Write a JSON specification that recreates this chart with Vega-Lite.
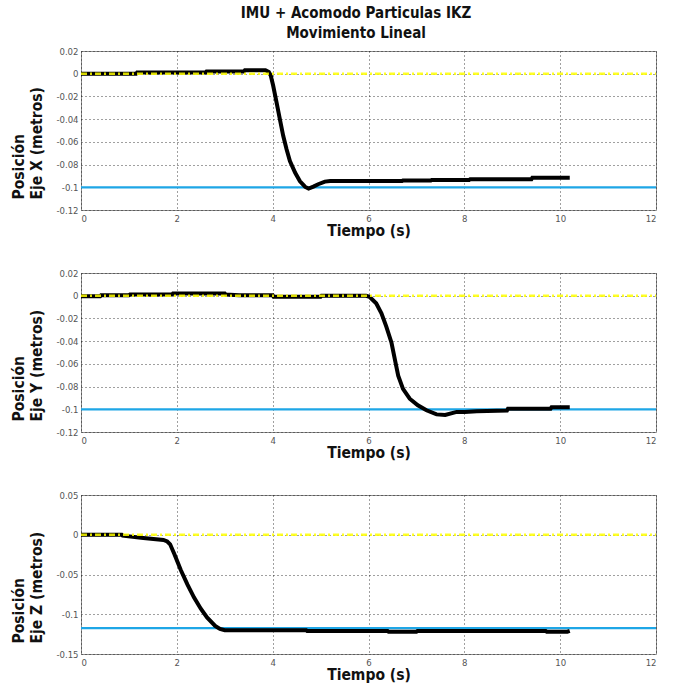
{
  "$schema": "https://vega.github.io/schema/vega-lite/v6.json",
  "background": "white",
  "padding": {"left": 10, "top": 5, "right": 10, "bottom": 0},
  "bounds": "flush",
  "spacing": 63,
  "title": {
    "text": ["IMU + Acomodo Particulas IKZ", "Movimiento Lineal"],
    "anchor": "middle",
    "font": "DejaVu Sans Condensed, sans-serif",
    "fontSize": 15,
    "fontWeight": "bold",
    "lineHeight": 20,
    "color": "#111",
    "offset": 5,
    "dx": 20
  },
  "config": {
    "view": {"stroke": "#8c8c8c", "strokeWidth": 1},
    "axis": {
      "grid": true,
      "gridColor": "#111",
      "gridDash": [1, 3],
      "gridOpacity": 0.8,
      "gridWidth": 1,
      "domain": false,
      "ticks": false,
      "labelFont": "DejaVu Sans Condensed, sans-serif",
      "labelFontSize": 9.5,
      "labelColor": "#555",
      "labelPadding": 3,
      "titleFont": "DejaVu Sans Condensed, sans-serif",
      "titleFontWeight": "bold",
      "titleFontSize": 15.5,
      "titleColor": "#111"
    }
  },
  "datasets": {
    "medida": [
      {"p": "X", "t": 0, "y": 0}, {"p": "X", "t": 1.15, "y": 0}, {"p": "X", "t": 1.17, "y": 0.001},
      {"p": "X", "t": 2.6, "y": 0.001}, {"p": "X", "t": 2.62, "y": 0.002}, {"p": "X", "t": 3.4, "y": 0.002},
      {"p": "X", "t": 3.42, "y": 0.003}, {"p": "X", "t": 3.85, "y": 0.003}, {"p": "X", "t": 3.92, "y": 0.0015},
      {"p": "X", "t": 3.96, "y": -0.0015}, {"p": "X", "t": 4.01, "y": -0.0104}, {"p": "X", "t": 4.08, "y": -0.025},
      {"p": "X", "t": 4.15, "y": -0.04}, {"p": "X", "t": 4.22, "y": -0.0547}, {"p": "X", "t": 4.29, "y": -0.0666},
      {"p": "X", "t": 4.36, "y": -0.077}, {"p": "X", "t": 4.47, "y": -0.0873}, {"p": "X", "t": 4.57, "y": -0.0947},
      {"p": "X", "t": 4.68, "y": -0.0997}, {"p": "X", "t": 4.75, "y": -0.1012}, {"p": "X", "t": 4.85, "y": -0.0994},
      {"p": "X", "t": 4.95, "y": -0.0973}, {"p": "X", "t": 5.09, "y": -0.095}, {"p": "X", "t": 5.2, "y": -0.0945},
      {"p": "X", "t": 6.7, "y": -0.0945}, {"p": "X", "t": 6.72, "y": -0.094}, {"p": "X", "t": 7.3, "y": -0.094},
      {"p": "X", "t": 7.32, "y": -0.0935}, {"p": "X", "t": 8.1, "y": -0.0935}, {"p": "X", "t": 8.12, "y": -0.093},
      {"p": "X", "t": 9.4, "y": -0.093}, {"p": "X", "t": 9.42, "y": -0.0915}, {"p": "X", "t": 10.2, "y": -0.0915},

      {"p": "Y", "t": 0, "y": -0.0005}, {"p": "Y", "t": 0.4, "y": -0.0005}, {"p": "Y", "t": 0.42, "y": 0.0005},
      {"p": "Y", "t": 1.0, "y": 0.0005}, {"p": "Y", "t": 1.02, "y": 0.001}, {"p": "Y", "t": 1.9, "y": 0.001},
      {"p": "Y", "t": 1.92, "y": 0.002}, {"p": "Y", "t": 3.0, "y": 0.002}, {"p": "Y", "t": 3.02, "y": 0.001},
      {"p": "Y", "t": 3.3, "y": 0.0005}, {"p": "Y", "t": 4.0, "y": 0.0005}, {"p": "Y", "t": 4.02, "y": -0.001},
      {"p": "Y", "t": 5.0, "y": -0.001}, {"p": "Y", "t": 5.02, "y": 0}, {"p": "Y", "t": 5.95, "y": 0},
      {"p": "Y", "t": 6.02, "y": -0.0009}, {"p": "Y", "t": 6.16, "y": -0.0067}, {"p": "Y", "t": 6.27, "y": -0.0154},
      {"p": "Y", "t": 6.37, "y": -0.027}, {"p": "Y", "t": 6.48, "y": -0.0414}, {"p": "Y", "t": 6.55, "y": -0.056},
      {"p": "Y", "t": 6.62, "y": -0.0704}, {"p": "Y", "t": 6.72, "y": -0.082}, {"p": "Y", "t": 6.86, "y": -0.0907},
      {"p": "Y", "t": 7.03, "y": -0.0965}, {"p": "Y", "t": 7.21, "y": -0.1009}, {"p": "Y", "t": 7.42, "y": -0.1045},
      {"p": "Y", "t": 7.6, "y": -0.105}, {"p": "Y", "t": 7.84, "y": -0.1023}, {"p": "Y", "t": 8.01, "y": -0.1023},
      {"p": "Y", "t": 8.26, "y": -0.1017}, {"p": "Y", "t": 8.89, "y": -0.101}, {"p": "Y", "t": 8.91, "y": -0.0995},
      {"p": "Y", "t": 9.8, "y": -0.0995}, {"p": "Y", "t": 9.82, "y": -0.0983}, {"p": "Y", "t": 10.2, "y": -0.0983},

      {"p": "Z", "t": 0, "y": 0}, {"p": "Z", "t": 0.85, "y": 0}, {"p": "Z", "t": 0.87, "y": -0.0012},
      {"p": "Z", "t": 1.3, "y": -0.004}, {"p": "Z", "t": 1.72, "y": -0.0065}, {"p": "Z", "t": 1.8, "y": -0.0085},
      {"p": "Z", "t": 1.86, "y": -0.012}, {"p": "Z", "t": 1.95, "y": -0.0245}, {"p": "Z", "t": 2.08, "y": -0.044},
      {"p": "Z", "t": 2.22, "y": -0.0625}, {"p": "Z", "t": 2.36, "y": -0.079}, {"p": "Z", "t": 2.5, "y": -0.093},
      {"p": "Z", "t": 2.63, "y": -0.104}, {"p": "Z", "t": 2.8, "y": -0.1146}, {"p": "Z", "t": 2.9, "y": -0.1185},
      {"p": "Z", "t": 3.0, "y": -0.12}, {"p": "Z", "t": 4.7, "y": -0.12}, {"p": "Z", "t": 4.72, "y": -0.121},
      {"p": "Z", "t": 6.4, "y": -0.121}, {"p": "Z", "t": 6.42, "y": -0.122}, {"p": "Z", "t": 7.0, "y": -0.122},
      {"p": "Z", "t": 7.02, "y": -0.1212}, {"p": "Z", "t": 9.7, "y": -0.1212}, {"p": "Z", "t": 9.72, "y": -0.122},
      {"p": "Z", "t": 10.15, "y": -0.122}, {"p": "Z", "t": 10.2, "y": -0.121}
    ],
    "cero": [
      {"p": "X", "t": 0, "y": 0}, {"p": "X", "t": 12, "y": 0},
      {"p": "Y", "t": 0, "y": 0}, {"p": "Y", "t": 12, "y": 0},
      {"p": "Z", "t": 0, "y": 0}, {"p": "Z", "t": 12, "y": 0}
    ],
    "objetivo": [
      {"p": "X", "t": 0, "y": -0.1}, {"p": "X", "t": 12, "y": -0.1},
      {"p": "Y", "t": 0, "y": -0.1}, {"p": "Y", "t": 12, "y": -0.1},
      {"p": "Z", "t": 0, "y": -0.1175}, {"p": "Z", "t": 12, "y": -0.1175}
    ]
  },
  "vconcat": [
    {
      "width": 575, "height": 159,
      "encoding": {
        "x": {"field": "t", "type": "quantitative", "scale": {"domain": [0, 12], "nice": false},
              "axis": {"values": [0, 2, 4, 6, 8, 10, 12], "title": "Tiempo (s)", "titlePadding": 1}},
        "y": {"field": "y", "type": "quantitative", "scale": {"domain": [-0.12, 0.02], "nice": false},
              "axis": {"values": [-0.12, -0.1, -0.08, -0.06, -0.04, -0.02, 0, 0.02], "labelExpr": "toString(datum.value)",
                       "title": ["Posición", "Eje X (metros)"], "titleAngle": -90, "titleAlign": "left", "titleBaseline": "top",
                       "titleX": -70, "titleY": 148, "titleLineHeight": 18}}
      },
      "layer": [
        {"data": {"name": "objetivo"}, "transform": [{"filter": "datum.p == 'X'"}], "mark": {"type": "line", "color": "#1ea6e6", "strokeWidth": 2.2}},
        {"data": {"name": "medida"}, "transform": [{"filter": "datum.p == 'X'"}], "mark": {"type": "line", "color": "#000000", "strokeWidth": 4}},
        {"data": {"name": "cero"}, "transform": [{"filter": "datum.p == 'X'"}], "mark": {"type": "line", "color": "#ffff00", "strokeWidth": 2.5, "opacity": 0.85, "strokeDash": [6, 3, 2, 3]}}
      ]
    },
    {
      "width": 575, "height": 159,
      "encoding": {
        "x": {"field": "t", "type": "quantitative", "scale": {"domain": [0, 12], "nice": false},
              "axis": {"values": [0, 2, 4, 6, 8, 10, 12], "title": "Tiempo (s)", "titlePadding": 1}},
        "y": {"field": "y", "type": "quantitative", "scale": {"domain": [-0.12, 0.02], "nice": false},
              "axis": {"values": [-0.12, -0.1, -0.08, -0.06, -0.04, -0.02, 0, 0.02], "labelExpr": "toString(datum.value)",
                       "title": ["Posición", "Eje Y (metros)"], "titleAngle": -90, "titleAlign": "left", "titleBaseline": "top",
                       "titleX": -70, "titleY": 148, "titleLineHeight": 18}}
      },
      "layer": [
        {"data": {"name": "objetivo"}, "transform": [{"filter": "datum.p == 'Y'"}], "mark": {"type": "line", "color": "#1ea6e6", "strokeWidth": 2.2}},
        {"data": {"name": "medida"}, "transform": [{"filter": "datum.p == 'Y'"}], "mark": {"type": "line", "color": "#000000", "strokeWidth": 4}},
        {"data": {"name": "cero"}, "transform": [{"filter": "datum.p == 'Y'"}], "mark": {"type": "line", "color": "#ffff00", "strokeWidth": 2.5, "opacity": 0.85, "strokeDash": [6, 3, 2, 3]}}
      ]
    },
    {
      "width": 575, "height": 159,
      "encoding": {
        "x": {"field": "t", "type": "quantitative", "scale": {"domain": [0, 12], "nice": false},
              "axis": {"values": [0, 2, 4, 6, 8, 10, 12], "title": "Tiempo (s)", "titlePadding": 1}},
        "y": {"field": "y", "type": "quantitative", "scale": {"domain": [-0.15, 0.05], "nice": false},
              "axis": {"values": [-0.15, -0.1, -0.05, 0, 0.05], "labelExpr": "toString(datum.value)",
                       "title": ["Posición", "Eje Z (metros)"], "titleAngle": -90, "titleAlign": "left", "titleBaseline": "top",
                       "titleX": -70, "titleY": 148, "titleLineHeight": 18}}
      },
      "layer": [
        {"data": {"name": "objetivo"}, "transform": [{"filter": "datum.p == 'Z'"}], "mark": {"type": "line", "color": "#1ea6e6", "strokeWidth": 2.2}},
        {"data": {"name": "medida"}, "transform": [{"filter": "datum.p == 'Z'"}], "mark": {"type": "line", "color": "#000000", "strokeWidth": 4}},
        {"data": {"name": "cero"}, "transform": [{"filter": "datum.p == 'Z'"}], "mark": {"type": "line", "color": "#ffff00", "strokeWidth": 2.5, "opacity": 0.85, "strokeDash": [6, 3, 2, 3]}}
      ]
    }
  ]
}
